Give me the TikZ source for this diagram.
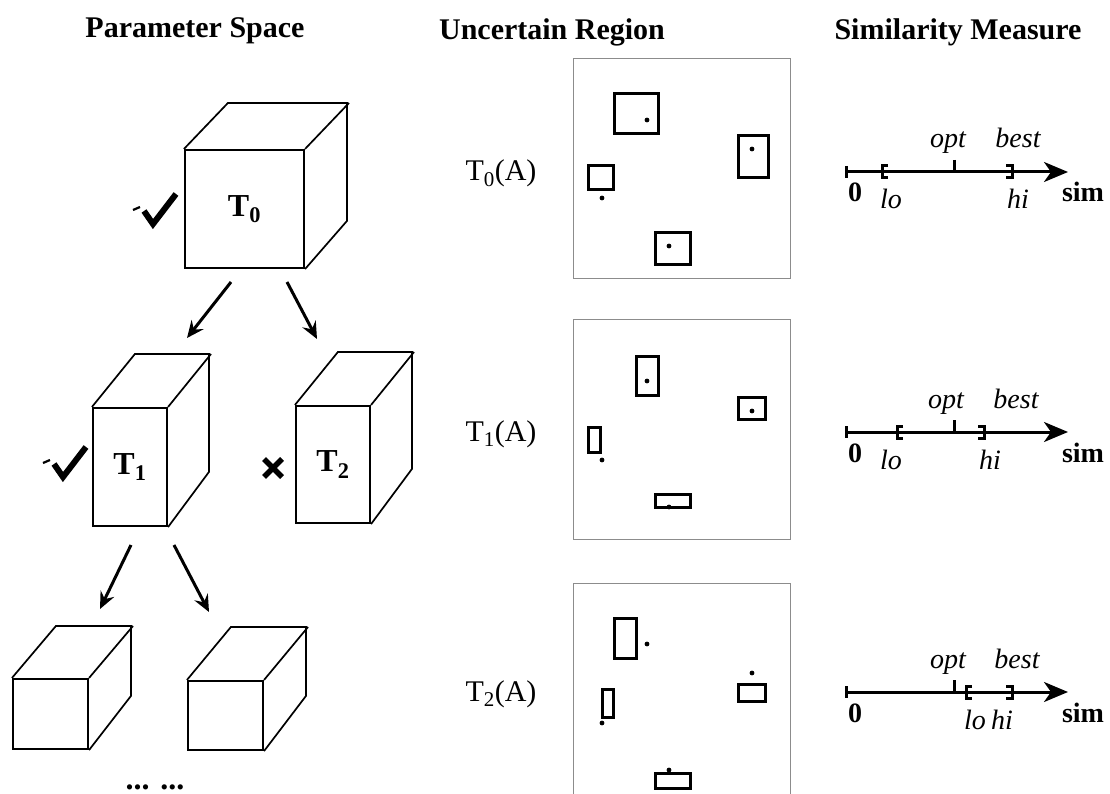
\documentclass[tikz,border=0pt]{standalone}
\usepackage{fontspec}
\setmainfont{Liberation Serif}
\usetikzlibrary{arrows.meta, calc}

\tikzset{
  okmark/.pic={
    \draw[line width=6pt, line join=miter] (-9,-13) -- (0,0) -- (23,-30);
    \draw[line width=2.2pt] (-20,-14) -- (-13,-17);
  },
  nomark/.pic={
    \draw[line width=5.5pt] (-9,-9) -- (9,9) (-9,9) -- (9,-9);
  }
}

\begin{document}
\begin{tikzpicture}[
  x=1pt, y=-1pt,
  font=\fontsize{28}{30}\selectfont,
  title/.style={anchor=base, font=\fontsize{30}{32}\selectfont\bfseries},
  face/.style={draw, line width=2.1pt, inner sep=0pt, font=\fontsize{32}{34}\selectfont\bfseries},
  back/.style={line width=1.7pt, line join=miter},
  arr/.style={-{Stealth[length=17pt, width=15pt, inset=6pt]}, line width=3pt},
  panel/.style={draw=black!45, line width=0.9pt, minimum width=217pt, minimum height=220pt, inner sep=0pt},
  box/.style={line width=3pt},
  spot/.style={fill=black},
  row/.style={anchor=base, font=\fontsize{30}{32}\selectfont},
  axis/.style={-{Stealth[length=24pt, width=20pt, inset=7pt]}, line width=3pt},
  brk/.style={line width=3pt, line join=miter},
  lbl/.style={anchor=base, font=\fontsize{28}{30}\selectfont\itshape},
  num/.style={anchor=base, font=\fontsize{28}{30}\selectfont\bfseries}
]
\useasboundingbox (0,0) rectangle (1110,794);

% titles
\node[title] (h1) at (195,38) {Parameter Space};
\node[title] (h2) at (552,40) {Uncertain Region};
\node[title] (h3) at (958,40) {Similarity Measure};

% parameter space
\node[face, minimum width=119pt, minimum height=118pt] (t0) at (244.5,209) {T\textsubscript{0}};
\draw[back] (t0.north west) -- ++(44,-46) -- ++(119,0) -- ++(0,118) -- (t0.south east)
  (t0.north east) -- ++(44,-46);
\pic at (153,224) {okmark};

\node[face, minimum width=74pt, minimum height=118pt] (t1) at (130,467) {T\textsubscript{1}};
\draw[back] (t1.north west) -- ++(43,-53) -- ++(74,0) -- ++(0,118) -- (t1.south east)
  (t1.north east) -- ++(43,-53);
\pic at (63,477) {okmark};

\node[face, minimum width=74pt, minimum height=117pt] (t2) at (333,464.5) {T\textsubscript{2}};
\draw[back] (t2.north west) -- ++(43,-53) -- ++(74,0) -- ++(0,117) -- (t2.south east)
  (t2.north east) -- ++(43,-53);
\pic at (273,468) {nomark};

\node[face, minimum width=75pt, minimum height=70pt] (t3) at (50.5,714) {};
\draw[back] (t3.north west) -- ++(44,-52) -- ++(75,0) -- ++(0,70) -- (t3.south east)
  (t3.north east) -- ++(44,-52);

\node[face, minimum width=75pt, minimum height=69pt] (t4) at (225.5,715.5) {};
\draw[back] (t4.north west) -- ++(44,-53) -- ++(75,0) -- ++(0,69) -- (t4.south east)
  (t4.north east) -- ++(44,-53);

\node[anchor=base, inner sep=0pt, font=\fontsize{32}{34}\selectfont\bfseries] (more) at (155,789) {... ...};

\coordinate (a0) at (231,282);
\coordinate (a1) at (187,338);
\coordinate (b0) at (287,282);
\coordinate (b1) at (317,339);
\coordinate (c0) at (131,545);
\coordinate (c1) at (100,609);
\coordinate (d0) at (174,545);
\coordinate (d1) at (209,612);
\draw[arr] (a0) -- (a1);
\draw[arr] (b0) -- (b1);
\draw[arr] (c0) -- (c1);
\draw[arr] (d0) -- (d1);

% uncertain regions
\node[row] (r0) at (501,181) {T\textsubscript{0}(A)};
\node[row] (r1) at (501,441) {T\textsubscript{1}(A)};
\node[row] (r2) at (501,701) {T\textsubscript{2}(A)};

\node[panel] (u0) at (681.5,168) {};
\draw[box] (614,94) rectangle (658,134);
\draw[box] (738,136) rectangle (768,178);
\draw[box] (588,166) rectangle (613,190);
\draw[box] (655,233) rectangle (690,264);
\fill[spot] (647,120) circle[radius=2.4pt];
\fill[spot] (752,149) circle[radius=2.4pt];
\fill[spot] (602,198) circle[radius=2.4pt];
\fill[spot] (669,246) circle[radius=2.4pt];

\node[panel] (u1) at (681.5,429.5) {};
\draw[box] (636,356) rectangle (658,395);
\draw[box] (738,397) rectangle (765,419);
\draw[box] (588,427) rectangle (600,452);
\draw[box] (655,494) rectangle (690,507);
\fill[spot] (647,381) circle[radius=2.4pt];
\fill[spot] (752,411) circle[radius=2.4pt];
\fill[spot] (602,460) circle[radius=2.4pt];
\fill[spot] (669,507) circle[radius=2.4pt];

\node[panel] (u2) at (681.5,693) {};
\draw[box] (614,618) rectangle (636,658);
\draw[box] (738,684) rectangle (765,701);
\draw[box] (602,689) rectangle (613,717);
\draw[box] (655,773) rectangle (690,788);
\fill[spot] (647,644) circle[radius=2.4pt];
\fill[spot] (752,673) circle[radius=2.4pt];
\fill[spot] (602,723) circle[radius=2.4pt];
\fill[spot] (669,770) circle[radius=2.4pt];

% similarity measure
\coordinate (s0) at (846,172);
\coordinate (e0) at (1068,172);
\draw[axis] (s0) -- (e0);
\draw[brk] (846,166) -- (846,178);
\draw[brk] (888,166) -- (882,166) -- (882,178) -- (888,178);
\draw[brk] (1006,166) -- (1012,166) -- (1012,178) -- (1006,178);
\draw[brk] (954,160) -- (954,172);
\node[lbl] (o0) at (948,148) {opt};
\node[lbl] (b0l) at (1018,148) {best};
\node[num] (z0) at (855,202) {0};
\node[lbl] (lo0) at (891,209) {lo};
\node[lbl] (hi0) at (1018,209) {hi};
\node[num] (m0) at (1083,202) {sim};

\coordinate (s1) at (846,432);
\coordinate (e1) at (1068,432);
\draw[axis] (s1) -- (e1);
\draw[brk] (846,426) -- (846,438);
\draw[brk] (903,426) -- (897,426) -- (897,438) -- (903,438);
\draw[brk] (978,426) -- (984,426) -- (984,438) -- (978,438);
\draw[brk] (954,420) -- (954,432);
\node[lbl] (o1) at (946,408) {opt};
\node[lbl] (b1l) at (1016,408) {best};
\node[num] (z1) at (855,462) {0};
\node[lbl] (lo1) at (891,469) {lo};
\node[lbl] (hi1) at (990,469) {hi};
\node[num] (m1) at (1083,462) {sim};

\coordinate (s2) at (846,692);
\coordinate (e2) at (1068,692);
\draw[axis] (s2) -- (e2);
\draw[brk] (846,686) -- (846,698);
\draw[brk] (972,686) -- (966,686) -- (966,698) -- (972,698);
\draw[brk] (1006,686) -- (1012,686) -- (1012,698) -- (1006,698);
\draw[brk] (954,680) -- (954,692);
\node[lbl] (o2) at (948,668) {opt};
\node[lbl] (b2l) at (1017,668) {best};
\node[num] (z2) at (855,722) {0};
\node[lbl] (lo2) at (975,729) {lo};
\node[lbl] (hi2) at (1002,729) {hi};
\node[num] (m2) at (1083,722) {sim};
\end{tikzpicture}
\end{document}
